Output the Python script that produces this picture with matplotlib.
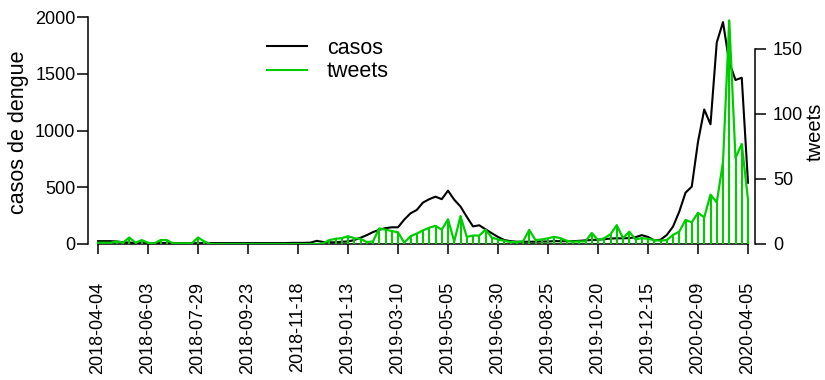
import numpy as np
import matplotlib
matplotlib.use("Agg")
import matplotlib.pyplot as plt
from matplotlib.lines import Line2D

plt.rcParams['font.family'] = ['Liberation Sans', 'DejaVu Sans']

# ---- data (weekly) ----
casos = [25, 25, 25, 22, 15, 12, 10, 10, 8, 8,
         8, 8, 7, 7, 7, 7, 7, 8, 8, 8,
         8, 8, 8, 8, 8, 8, 8, 8, 8, 8,
         8, 10, 10, 10, 12, 28, 18, 15, 15, 20,
         22, 35, 55, 78, 105, 125, 140, 147, 147, 215,
         270, 300, 365, 395, 417, 395, 470, 390, 330, 240,
         155, 165, 130, 95, 62, 35, 25, 20, 20, 20,
         20, 22, 22, 25, 25, 25, 25, 28, 32, 35,
         38, 42, 48, 50, 50, 52, 60, 78, 62, 32,
         38, 79, 153, 285, 452, 505, 900, 1185, 1055, 1775,
         1955, 1600, 1445, 1465, 540]

tweets = [1, 1, 1, 2, 1, 5, 1, 3, 1, 0.5,
          3, 3, 0.5, 0.5, 0.5, 0.5, 5, 2, 0, 0,
          0, 0, 0, 0, 0, 0, 0, 0, 0, 0,
          0, 0, 0, 0, 0, 0, 0.5, 3, 4, 4.5,
          6, 4.5, 4, 1.5, 2, 12, 11, 10, 9, 1,
          6, 8, 10.5, 12.5, 14, 11, 19, 2, 21.5, 5.5,
          6.5, 6.5, 11, 5, 3.5, 2.5, 1.5, 1.5, 2, 10.8,
          3, 3.5, 4.4, 5.5, 4.5, 2.5, 1.8, 2, 2, 8.5,
          3, 4.5, 7.5, 14.5, 4.5, 9.5, 3.6, 4.5, 4, 3,
          2.6, 3, 7, 9.5, 18.5, 16.7, 24, 20.5, 38, 32,
          63, 172, 66, 77, 34]

tick_labels = ["2018-04-04", "2018-06-03", "2018-07-29", "2018-09-23",
               "2018-11-18", "2019-01-13", "2019-03-10", "2019-05-05",
               "2019-06-30", "2019-08-25", "2019-10-20", "2019-12-15",
               "2020-02-09", "2020-04-05"]

GREEN = "#00CD00"
FS = 13
FS_LAB = 15.5

x = np.arange(len(casos))
ticks = np.arange(0, len(casos), 8)

W, H = 825, 380
fig = plt.figure(figsize=(W / 100, H / 100), dpi=100)
ax = fig.add_axes([88 / W, (H - 244) / H, (755 - 88) / W, (244 - 17) / H])
ax2 = ax.twinx()

ax.plot(x, casos, color="black", lw=1.5, solid_joinstyle="round")
ax2.vlines(x, 0, tweets, color=GREEN, lw=1.5)
ax2.plot(x, tweets, color=GREEN, lw=1.6, solid_joinstyle="round")

ax.set_xlim(-1.6, 105.12)
ax.set_ylim(0, 2000)
ax2.set_ylim(0, 174.6)

for a in (ax, ax2):
    for s in a.spines.values():
        s.set_visible(False)
    a.patch.set_visible(False)

ax.spines['left'].set_visible(True)
ax.spines['left'].set_bounds(0, 2000)
ax.spines['bottom'].set_visible(True)
ax.spines['bottom'].set_bounds(0, 104)
ax2.spines['right'].set_visible(True)
ax2.spines['right'].set_bounds(0, 150)
for s in (ax.spines['left'], ax.spines['bottom'], ax2.spines['right']):
    s.set_linewidth(1.1)

ax.set_yticks([0, 500, 1000, 1500, 2000])
ax.set_yticklabels(["0", "500", "1000", "1500", "2000"])
ax2.set_yticks([0, 50, 100, 150])
ax2.set_yticklabels(["0", "50", "100", "150"])
ax.set_xticks(ticks)
ax.set_xticklabels(tick_labels, rotation=90)

ax.tick_params(axis='y', length=8, width=1.1, pad=1, labelsize=FS)
ax.tick_params(axis='x', length=7, width=1.1, pad=20, labelsize=FS)
ax2.tick_params(axis='y', length=8, width=1.1, pad=5, labelsize=FS)

fig.text(19 / W, (H - 132) / H, "casos de dengue", rotation=90,
         ha="center", va="center", fontsize=FS_LAB)
fig.text(824.5 / W, (H - 132) / H, "tweets", rotation=90,
         ha="right", va="center", fontsize=14.5)

handles = [Line2D([], [], color="black", lw=1.5),
           Line2D([], [], color=GREEN, lw=1.5)]
fig.legend(handles, ["casos", "tweets"], loc="upper left",
           bbox_to_anchor=(267 / W, (H - 37.5) / H), frameon=False,
           fontsize=FS_LAB, borderpad=0, borderaxespad=0,
           handlelength=1.85, handletextpad=0.92, labelspacing=0.12)

fig.savefig("out.png", dpi=100)
